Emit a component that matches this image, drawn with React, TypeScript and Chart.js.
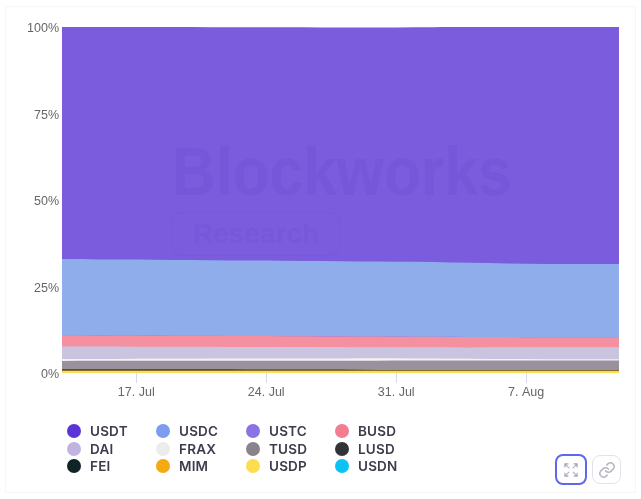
import React, { useEffect, useRef } from "react";
import { Chart, registerables } from "chart.js";

Chart.register(...registerables);

const days = [
  "13. Jul","14. Jul","15. Jul","16. Jul","17. Jul","18. Jul","19. Jul","20. Jul","21. Jul","22. Jul","23. Jul",
  "24. Jul","25. Jul","26. Jul","27. Jul","28. Jul","29. Jul","30. Jul","31. Jul","1. Aug","2. Aug","3. Aug",
  "4. Aug","5. Aug","6. Aug","7. Aug","8. Aug","9. Aug","10. Aug","11. Aug","12. Aug",
];
const labelledDays = ["17. Jul", "24. Jul", "31. Jul", "7. Aug"];
const yTicks = [0, 25, 50, 75, 100];

const USDC = [22.03,22.02,21.95,21.95,21.94,21.92,21.88,21.86,21.84,21.82,21.82,21.8,21.78,21.77,21.75,21.72,21.7,21.68,21.66,21.62,21.58,21.5,21.42,21.36,21.28,21.2,21.16,21.18,21.2,21.2,21.2];
const USTC = [0.02,0.02,0.02,0.02,0.02,0.02,0.02,0.02,0.02,0.02,0.02,0.02,0.02,0.02,0.02,0.02,0.02,0.02,0.02,0.02,0.02,0.02,0.02,0.02,0.02,0.02,0.02,0.02,0.02,0.02,0.02];
const BUSD = [3.24,3.24,3.22,3.22,3.2,3.2,3.18,3.18,3.16,3.15,3.15,3.14,3.12,3.12,3.1,3.1,3.08,3.08,3.07,3.07,3.05,3.02,3.0,2.98,2.95,2.92,2.9,2.9,2.88,2.87,2.87];
const DAI = [3.61,3.6,3.58,3.55,3.52,3.5,3.48,3.44,3.4,3.38,3.36,3.34,3.32,3.3,3.28,3.26,3.22,3.2,3.18,3.2,3.24,3.28,3.3,3.34,3.38,3.4,3.42,3.44,3.45,3.46,3.47];
const FRAX = [0.55,0.54,0.54,0.56,0.58,0.58,0.6,0.62,0.64,0.64,0.64,0.64,0.64,0.64,0.66,0.68,0.7,0.7,0.66,0.62,0.58,0.54,0.5,0.48,0.46,0.44,0.42,0.4,0.38,0.38,0.37];
const TUSD = [2.43,2.44,2.46,2.46,2.46,2.46,2.46,2.48,2.48,2.48,2.5,2.5,2.5,2.52,2.54,2.56,2.6,2.64,2.72,2.72,2.72,2.72,2.72,2.72,2.72,2.72,2.72,2.72,2.72,2.72,2.72];
const LUSD = [0.35,0.35,0.34,0.34,0.34,0.34,0.34,0.33,0.33,0.33,0.32,0.32,0.32,0.3,0.28,0.26,0.22,0.18,0.15,0.15,0.15,0.15,0.15,0.15,0.15,0.15,0.15,0.15,0.15,0.15,0.15];
const FEI = [0.04,0.04,0.04,0.04,0.04,0.04,0.04,0.04,0.04,0.04,0.04,0.04,0.04,0.04,0.04,0.04,0.04,0.04,0.04,0.04,0.04,0.04,0.04,0.04,0.04,0.04,0.04,0.04,0.04,0.04,0.04];
const MIM = [0.05,0.05,0.05,0.05,0.05,0.05,0.05,0.05,0.05,0.05,0.05,0.05,0.05,0.05,0.05,0.05,0.05,0.05,0.05,0.05,0.05,0.05,0.05,0.05,0.05,0.05,0.05,0.05,0.05,0.05,0.05];
const USDP = [0.6,0.6,0.6,0.6,0.6,0.6,0.6,0.6,0.6,0.6,0.6,0.6,0.6,0.6,0.6,0.6,0.6,0.6,0.6,0.6,0.6,0.6,0.6,0.6,0.6,0.6,0.6,0.6,0.6,0.6,0.6];
const USDN = [0.03,0.03,0.03,0.03,0.03,0.03,0.03,0.03,0.03,0.03,0.03,0.03,0.03,0.03,0.03,0.03,0.03,0.03,0.03,0.03,0.03,0.03,0.03,0.03,0.03,0.03,0.03,0.03,0.03,0.03,0.03];
const USDT = [67.05,67.07,67.15,67.18,67.22,67.26,67.32,67.34,67.37,67.42,67.43,67.46,67.5,67.52,67.54,67.56,67.6,67.62,67.7,67.8,67.9,68.1,68.2,68.3,68.4,68.5,68.5,68.5,68.5,68.5,68.5];

const seriesNames = ["USDT","USDC","USTC","BUSD","DAI","FRAX","TUSD","LUSD","FEI","MIM","USDP","USDN"];
const seriesValues = [USDT,USDC,USTC,BUSD,DAI,FRAX,TUSD,LUSD,FEI,MIM,USDP,USDN];
const fillColors = ["#7B5CDD","#8FADEA","#8B73E3","#F4909F","#CAC4E0","#F2F2F2","#9A919E","#3A3A3D","#0E2426","#F5A913","#FDDC4E","#0CC1F3"];
const legendColors = ["#5B33D6","#7C9CF0","#8B73E3","#F27C90","#BFB5E0","#ECECEC","#8A838E","#333337","#0E2426","#F5A913","#FDDC4E","#0CC1F3"];

export default function App() {
  const ref = useRef<HTMLCanvasElement>(null);
  useEffect(() => {
    const chart = new Chart(ref.current!, {
      type: "line",
      data: {
        labels: days,
        datasets: seriesNames
          .map((name, i) => ({
            label: name,
            data: seriesValues[i],
            backgroundColor: fillColors[i],
            borderColor: fillColors[i],
            borderWidth: 0,
            pointRadius: 0,
            fill: true,
            tension: 0,
          }))
          .reverse(),
      },
      options: {
        animation: false,
        responsive: false,
        maintainAspectRatio: false,
        layout: { padding: { left: 0, right: 22, top: 27, bottom: 0 } },
        plugins: { legend: { display: false }, tooltip: { enabled: false } },
        scales: {
          x: {
            stacked: true,
            offset: false,
            border: { display: false },
            grid: {
              drawOnChartArea: false,
              drawTicks: true,
              tickLength: 10,
              tickColor: (c: any) =>
                labelledDays.includes(days[c.index]) ? "#d5dcf0" : "rgba(0,0,0,0)",
            },
            afterFit: (s: any) => { s.height = 126; },
            ticks: {
              autoSkip: false,
              maxRotation: 0,
              color: "#666666",
              font: { family: "'Liberation Sans'", size: 12.5 },
              padding: 2,
              callback: (_v: any, i: number) =>
                labelledDays.includes(days[i]) ? days[i] : "",
            },
          },
          y: {
            stacked: true,
            min: 0,
            max: 100,
            border: { display: false },
            afterFit: (s: any) => { s.width = 62; },
            grid: { display: false, drawTicks: false },
            afterBuildTicks: (s: any) => { s.ticks = yTicks.map((value) => ({ value })); },
            ticks: {
              color: "#666666",
              padding: 3,
              // the second line sits 2px under the tick, as the labels do in the reference
              font: { family: "'Liberation Sans'", size: 12.5, lineHeight: "4px" },
              callback: (v: any) => ["", `${v}%`],
            },
          },
        },
      },
    });
    return () => chart.destroy();
  }, []);

  return (
    <div style={{ position: "fixed", left: 0, top: 0, width: 641, height: 499, background: "#fff", overflow: "hidden", filter: "blur(0.35px)" }}>
      <div style={{ position: "absolute", left: 5, top: 6, width: 629, height: 485, border: "1px solid #f6f6f6" }} />
      <canvas ref={ref} width={641} height={499} style={{ position: "absolute", left: 0, top: 0, width: 641, height: 499 }} />
      <div style={{ position: "absolute", left: 172, top: 131, fontFamily: "'Liberation Sans'", fontWeight: 700, fontSize: 68, lineHeight: "80px", color: "rgba(70,40,170,0.085)", whiteSpace: "nowrap", transform: "scaleX(0.89)", transformOrigin: "left top" }}>Blockworks</div>
      <div style={{ position: "absolute", left: 171, top: 212, width: 169, height: 44, border: "1.5px solid rgba(70,40,170,0.05)", borderRadius: 10, boxSizing: "border-box" }} />
      <div style={{ position: "absolute", left: 193, top: 216, fontFamily: "'Liberation Sans'", fontWeight: 700, fontSize: 28, lineHeight: "36px", color: "rgba(70,40,170,0.06)" }}>Research</div>
      {seriesNames.map((name, i) => {
        const col = i % 4;
        const row = Math.floor(i / 4);
        const left = [67, 156, 246, 335][col];
        const top = [424, 442, 459][row];
        return (
          <div key={name} style={{ position: "absolute", left, top, height: 14, display: "flex", alignItems: "center" }}>
            <span style={{ width: 14, height: 14, borderRadius: "50%", background: legendColors[i], display: "inline-block" }} />
            <span style={{ marginLeft: 9, fontFamily: "Inter", fontWeight: 600, fontSize: 13.5, color: "#3c3c4c", letterSpacing: 0.2 }}>{name}</span>
          </div>
        );
      })}
      <div style={{ position: "absolute", left: 555, top: 454, width: 32, height: 31, boxSizing: "border-box", border: "2px solid #5F68EA", borderRadius: 8, display: "flex", alignItems: "center", justifyContent: "center" }}>
        <svg width="14" height="14" viewBox="0 0 16 16" fill="none" stroke="#a4a4b8" strokeWidth="1.2">
          <path d="M1 5V1H5M1 1L6 6M11 1H15V5M15 1L10 6M1 11V15H5M1 15L6 10M15 11V15H11M15 15L10 10" />
        </svg>
      </div>
      <div style={{ position: "absolute", left: 592, top: 455, width: 29, height: 29, boxSizing: "border-box", border: "1.5px solid #e2e2ea", borderRadius: 8, display: "flex", alignItems: "center", justifyContent: "center" }}>
        <svg width="18" height="18" viewBox="0 0 24 24" fill="none" stroke="#b4b4c4" strokeWidth="2" strokeLinecap="round">
          <path d="M10 13a5 5 0 0 0 7.5.5l3-3a5 5 0 0 0-7-7l-1.7 1.7" />
          <path d="M14 11a5 5 0 0 0-7.5-.5l-3 3a5 5 0 0 0 7 7l1.7-1.7" />
        </svg>
      </div>
    </div>
  );
}
